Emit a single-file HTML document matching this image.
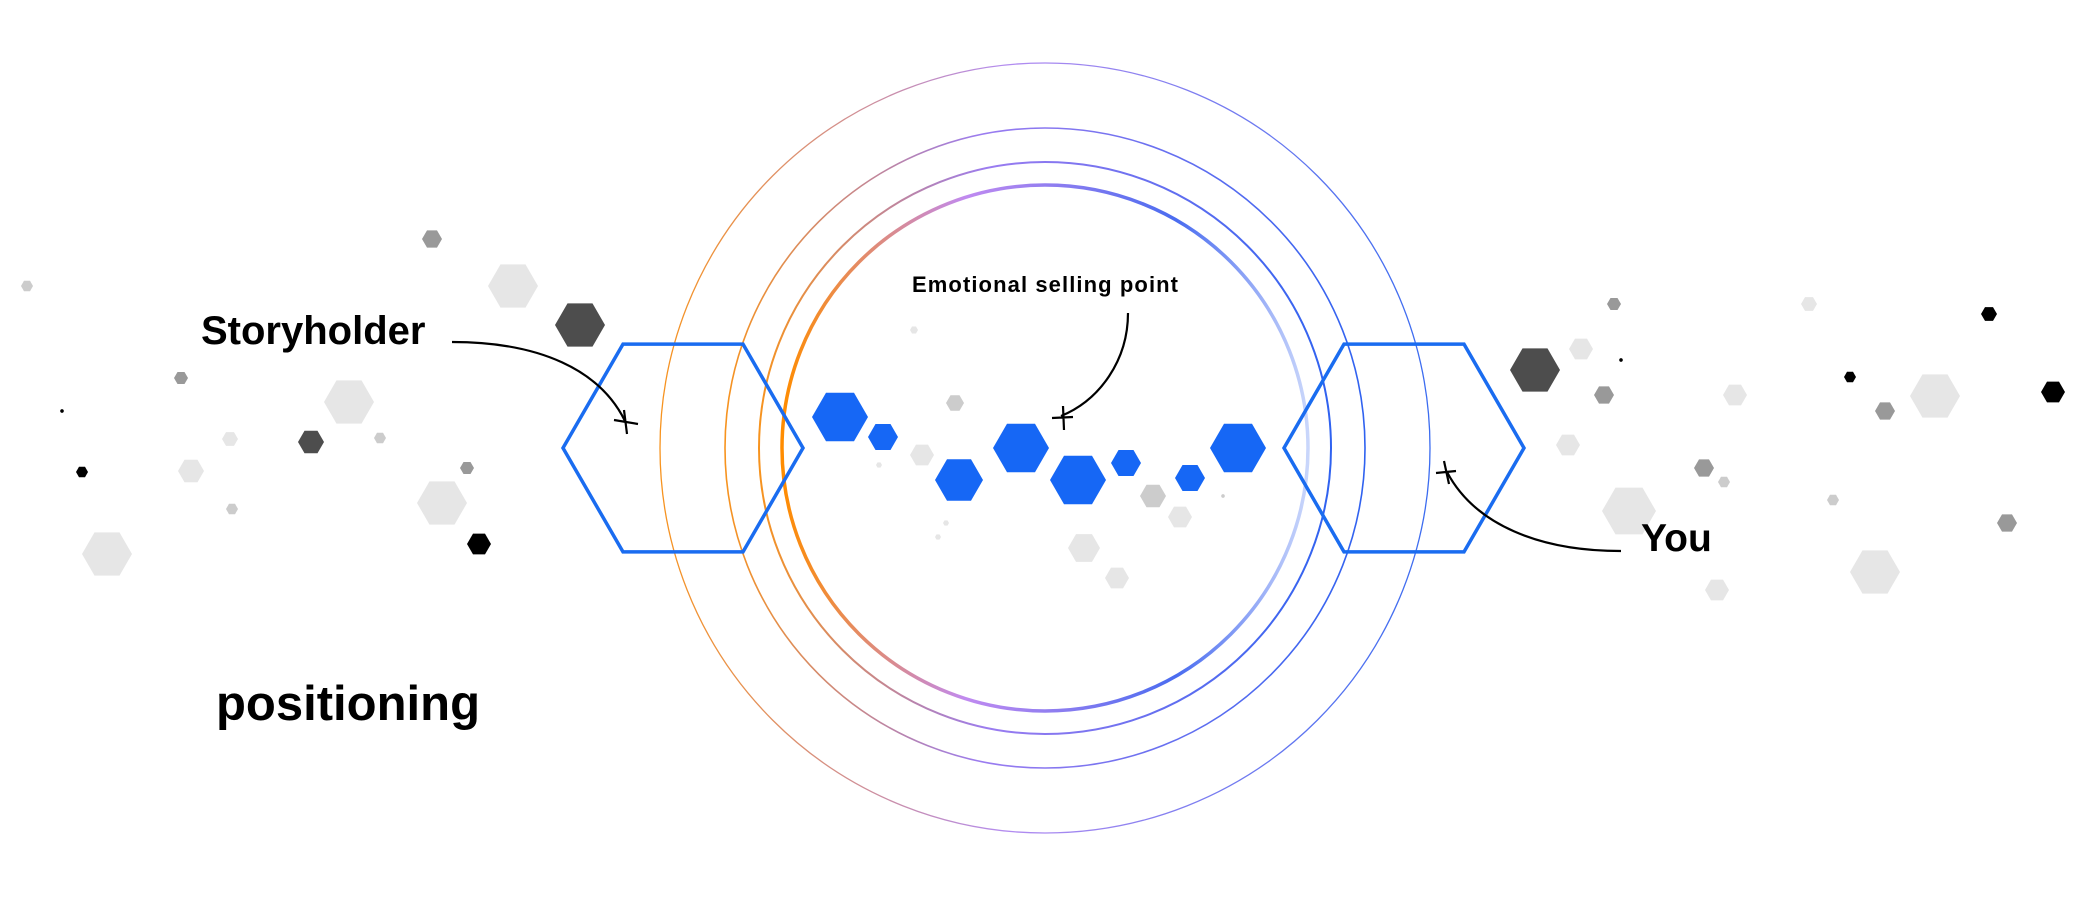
<!DOCTYPE html>
<html><head><meta charset="utf-8"><style>
html,body{margin:0;padding:0;background:#fff;width:2091px;height:898px;overflow:hidden}
svg{display:block}
text{font-family:"Liberation Sans",Arial,sans-serif;font-weight:bold;fill:#000}
</style></head><body>
<svg width="2091" height="898" viewBox="0 0 2091 898" xmlns="http://www.w3.org/2000/svg">
<defs>
<linearGradient id="g1" x1="0" y1="0" x2="1" y2="0">
<stop offset="0" stop-color="#f7931e"/><stop offset="0.45" stop-color="#b38cf0"/><stop offset="1" stop-color="#3b6cf0"/></linearGradient>
<linearGradient id="g2" x1="0" y1="0" x2="1" y2="0">
<stop offset="0" stop-color="#ff8c00"/><stop offset="0.35" stop-color="#c08af0"/><stop offset="0.75" stop-color="#4a6cf0"/><stop offset="1" stop-color="#c9d6fb"/></linearGradient>
<linearGradient id="g3" x1="0" y1="0" x2="1" y2="0">
<stop offset="0" stop-color="#f7931e"/><stop offset="0.4" stop-color="#9b7cf0"/><stop offset="1" stop-color="#2f62f0"/></linearGradient>
<polygon id="h" points="1,0 0.5,0.866 -0.5,0.866 -1,0 -0.5,-0.866 0.5,-0.866"/>
</defs>
<circle cx="1045" cy="448" r="385" fill="none" stroke="url(#g1)" stroke-width="1.3"/>
<circle cx="1045" cy="448" r="320" fill="none" stroke="url(#g3)" stroke-width="1.6"/>
<circle cx="1045" cy="448" r="286" fill="none" stroke="url(#g3)" stroke-width="2"/>
<circle cx="1045" cy="448" r="263" fill="none" stroke="url(#g2)" stroke-width="3.5"/>

<use href="#h" transform="translate(432,239) scale(10)" fill="#999"/>
<use href="#h" transform="translate(513,286) scale(25)" fill="#e6e6e6"/>
<use href="#h" transform="translate(580,325) scale(25)" fill="#4d4d4d"/>
<use href="#h" transform="translate(27,286) scale(6)" fill="#ccc"/>
<use href="#h" transform="translate(181,378) scale(7)" fill="#999"/>
<use href="#h" transform="translate(349,402) scale(25)" fill="#e6e6e6"/>
<use href="#h" transform="translate(62,411) scale(2)" fill="#000"/>
<use href="#h" transform="translate(230,439) scale(8)" fill="#e6e6e6"/>
<use href="#h" transform="translate(311,442) scale(13)" fill="#4d4d4d"/>
<use href="#h" transform="translate(380,438) scale(6)" fill="#ccc"/>
<use href="#h" transform="translate(82,472) scale(6)" fill="#000"/>
<use href="#h" transform="translate(191,471) scale(13)" fill="#e6e6e6"/>
<use href="#h" transform="translate(467,468) scale(7)" fill="#999"/>
<use href="#h" transform="translate(232,509) scale(6)" fill="#ccc"/>
<use href="#h" transform="translate(442,503) scale(25)" fill="#e6e6e6"/>
<use href="#h" transform="translate(479,544) scale(12)" fill="#000"/>
<use href="#h" transform="translate(107,554) scale(25)" fill="#e6e6e6"/>

<use href="#h" transform="translate(1614,304) scale(7)" fill="#999"/>
<use href="#h" transform="translate(1809,304) scale(8)" fill="#e6e6e6"/>
<use href="#h" transform="translate(1989,314) scale(8)" fill="#000"/>
<use href="#h" transform="translate(1581,349) scale(12)" fill="#e6e6e6"/>
<use href="#h" transform="translate(1535,370) scale(25)" fill="#4d4d4d"/>
<use href="#h" transform="translate(1621,360) scale(2)" fill="#000"/>
<use href="#h" transform="translate(1850,377) scale(6)" fill="#000"/>
<use href="#h" transform="translate(1604,395) scale(10)" fill="#999"/>
<use href="#h" transform="translate(1735,395) scale(12)" fill="#e6e6e6"/>
<use href="#h" transform="translate(1935,396) scale(25)" fill="#e6e6e6"/>
<use href="#h" transform="translate(2053,392) scale(12)" fill="#000"/>
<use href="#h" transform="translate(1885,411) scale(10)" fill="#999"/>
<use href="#h" transform="translate(1568,445) scale(12)" fill="#e6e6e6"/>
<use href="#h" transform="translate(1704,468) scale(10)" fill="#999"/>
<use href="#h" transform="translate(1724,482) scale(6)" fill="#ccc"/>
<use href="#h" transform="translate(1629,511) scale(27)" fill="#e6e6e6"/>
<use href="#h" transform="translate(1833,500) scale(6)" fill="#ccc"/>
<use href="#h" transform="translate(2007,523) scale(10)" fill="#999"/>
<use href="#h" transform="translate(1875,572) scale(25)" fill="#e6e6e6"/>
<use href="#h" transform="translate(1717,590) scale(12)" fill="#e6e6e6"/>

<use href="#h" transform="translate(955,403) scale(9)" fill="#ccc"/>
<use href="#h" transform="translate(922,455) scale(12)" fill="#e6e6e6"/>
<use href="#h" transform="translate(1153,496) scale(13)" fill="#ccc"/>
<use href="#h" transform="translate(1180,517) scale(12)" fill="#e6e6e6"/>
<use href="#h" transform="translate(1084,548) scale(16)" fill="#e6e6e6"/>
<use href="#h" transform="translate(1117,578) scale(12)" fill="#e6e6e6"/>
<use href="#h" transform="translate(914,330) scale(4)" fill="#e6e6e6"/>
<use href="#h" transform="translate(879,465) scale(3)" fill="#e6e6e6"/>
<use href="#h" transform="translate(946,523) scale(3)" fill="#e6e6e6"/>
<use href="#h" transform="translate(938,537) scale(3)" fill="#e6e6e6"/>
<use href="#h" transform="translate(1223,496) scale(2)" fill="#ccc"/>

<use href="#h" transform="translate(840,417) scale(28)" fill="#1667f5"/>
<use href="#h" transform="translate(883,437) scale(15)" fill="#1667f5"/>
<use href="#h" transform="translate(959,480) scale(24)" fill="#1667f5"/>
<use href="#h" transform="translate(1021,448) scale(28)" fill="#1667f5"/>
<use href="#h" transform="translate(1078,480) scale(28)" fill="#1667f5"/>
<use href="#h" transform="translate(1126,463) scale(15)" fill="#1667f5"/>
<use href="#h" transform="translate(1190,478) scale(15)" fill="#1667f5"/>
<use href="#h" transform="translate(1238,448) scale(28)" fill="#1667f5"/>

<polygon points="803,448 743,551.9 623,551.9 563,448 623,344.1 743,344.1" fill="none" stroke="#1a6cf0" stroke-width="3.5"/>
<polygon points="1524,448 1464,551.9 1344,551.9 1284,448 1344,344.1 1464,344.1" fill="none" stroke="#1a6cf0" stroke-width="3.5"/>

<g fill="none" stroke="#000" stroke-width="2.2">
<path d="M452,342 C540,342 600,370 625,421"/>
<path d="M1128,313 C1128,360 1100,400 1061,416"/>
<path d="M1621,551 C1540,551 1475,525 1447,472"/>
<path d="M614,420 L638,424 M624,410 L627,434"/>
<path d="M1052,418 L1073,417 M1063,406 L1064,430"/>
<path d="M1436,473 L1456,471 M1444,461 L1449,484"/>
</g>
<text x="201" y="344" font-size="40">Storyholder</text>
<text x="912" y="292" font-size="22" textLength="266">Emotional selling point</text>
<text x="1641" y="551" font-size="39">You</text>
<text x="216" y="720" font-size="49">positioning</text>
</svg>
</body></html>
